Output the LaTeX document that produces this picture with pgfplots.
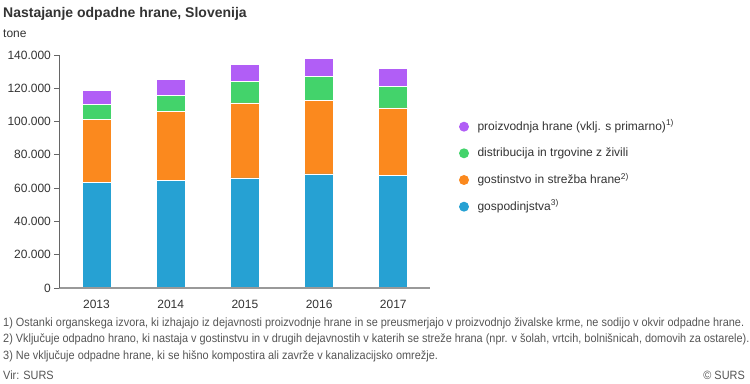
\documentclass[border=0pt]{standalone}
\usepackage{pgfplots}
\pgfplotsset{compat=1.18}
\usepackage{fontspec}
\setmainfont{Liberation Sans}
\definecolor{cblue}{HTML}{26A1D3}
\definecolor{corange}{HTML}{FB891E}
\definecolor{cgreen}{HTML}{43D36B}
\definecolor{cpurple}{HTML}{B15EF6}
\definecolor{ctext}{HTML}{333333}
\definecolor{cfoot}{HTML}{555555}
\newlength\fnw
\newcommand\fnfont{\fontsize{12bp}{14bp}\selectfont}
\newcommand\lineone{1) Ostanki organskega izvora, ki izhajajo iz dejavnosti proizvodnje hrane in se preusmerjajo v proizvodnjo živalske krme, ne sodijo v okvir odpadne hrane.}
\newcommand\linetwo{2) Vključuje odpadno hrano, ki nastaja v gostinstvu in v drugih dejavnostih v katerih se streže hrana (npr. v šolah, vrtcih, bolnišnicah, domovih za ostarele).}
\newcommand\linethree{3) Ne vključuje odpadne hrane, ki se hišno kompostira ali zavrže v kanalizacijsko omrežje.}
\begin{document}
\settowidth\fnw{\fnfont\lineone}%
\pgfmathsetmacro\fnscale{743.8/\fnw}%
\begin{tikzpicture}
\path[use as bounding box] (0,0) rectangle (750bp,384bp);
\begin{axis}[
  at={(59.4bp,96bp)}, anchor=south west, scale only axis,
  width=371bp, height=233bp,
  ybar stacked, bar width=29bp,
  xmin=-0.5, xmax=4.5, ymin=0, ymax=140000,
  xtick={0,1,2,3,4}, xticklabels={2013,2014,2015,2016,2017},
  ytick={0,20000,40000,60000,80000,100000,120000,140000},
  yticklabels={0,20.000,40.000,60.000,80.000,100.000,120.000,140.000},
  scaled y ticks=false,
  axis on top,
  axis x line*=bottom, axis y line*=left,
  axis line style={-},
  x axis line style={draw=black!40, line width=1.2bp},
  y axis line style={draw=black!60, line width=0.8bp},
  xtick style={draw=none},
  ytick style={draw=black!60, line width=0.8bp},
  tick align=outside, major tick length=5bp,
  ticklabel style={font=\fontsize{12bp}{14bp}\selectfont, text=ctext},
  xticklabel style={yshift=-4bp},
  every axis plot/.append style={draw=white, line width=0.8bp},
  clip=false,
]
\addplot[fill=cblue] coordinates {(0,63300) (1,64700) (2,66100) (3,68500) (4,67700)};
\addplot[fill=corange] coordinates {(0,38000) (1,41500) (2,45100) (3,44100) (4,40500)};
\addplot[fill=cgreen] coordinates {(0,9100) (1,9600) (2,12800) (3,14600) (4,13000)};
\addplot[fill=cpurple] coordinates {(0,8200) (1,9600) (2,10200) (3,10600) (4,10600)};
\end{axis}
% title
\node[anchor=base west, inner sep=0, text=ctext, font=\fontsize{14bp}{16bp}\selectfont\bfseries] at (3bp,366.7bp) {Nastajanje odpadne hrane, Slovenija};
\node[anchor=base west, inner sep=0, text=ctext, font=\fontsize{12bp}{14bp}\selectfont] at (3bp,346.3bp) {tone};
% legend
\fill[cpurple] (464bp,257.3bp) circle (5bp);
\fill[cgreen] (464bp,230.7bp) circle (5bp);
\fill[corange] (464bp,204bp) circle (5bp);
\fill[cblue] (464bp,177.3bp) circle (5bp);
\begin{scope}[every node/.style={anchor=base west, inner sep=0, text=ctext, font=\fontsize{12bp}{14bp}\selectfont}]
\node at (477.3bp,253.8bp) {proizvodnja hrane (vklj. s primarno)\textsuperscript{1)}};
\node at (477.3bp,227.2bp) {distribucija in trgovine z živili};
\node at (477.3bp,200.5bp) {gostinstvo in strežba hrane\textsuperscript{2)}};
\node at (477.3bp,173.8bp) {gospodinjstva\textsuperscript{3)}};
\end{scope}
% footnotes
\begin{scope}[every node/.style={anchor=base west, inner sep=0, text=cfoot}]
\node at (3bp,57.2bp) {\scalebox{\fnscale}[1]{\fnfont\lineone}};
\node at (3bp,41bp) {\scalebox{\fnscale}[1]{\fnfont\linetwo}};
\node at (3bp,24.7bp) {\scalebox{\fnscale}[1]{\fnfont\linethree}};
\node at (3bp,4.7bp) {\scalebox{\fnscale}[1]{\fnfont Vir: SURS}};
\node[anchor=base east] at (745bp,4.7bp) {\scalebox{\fnscale}[1]{\fnfont © SURS}};
\end{scope}
\end{tikzpicture}
\end{document}
